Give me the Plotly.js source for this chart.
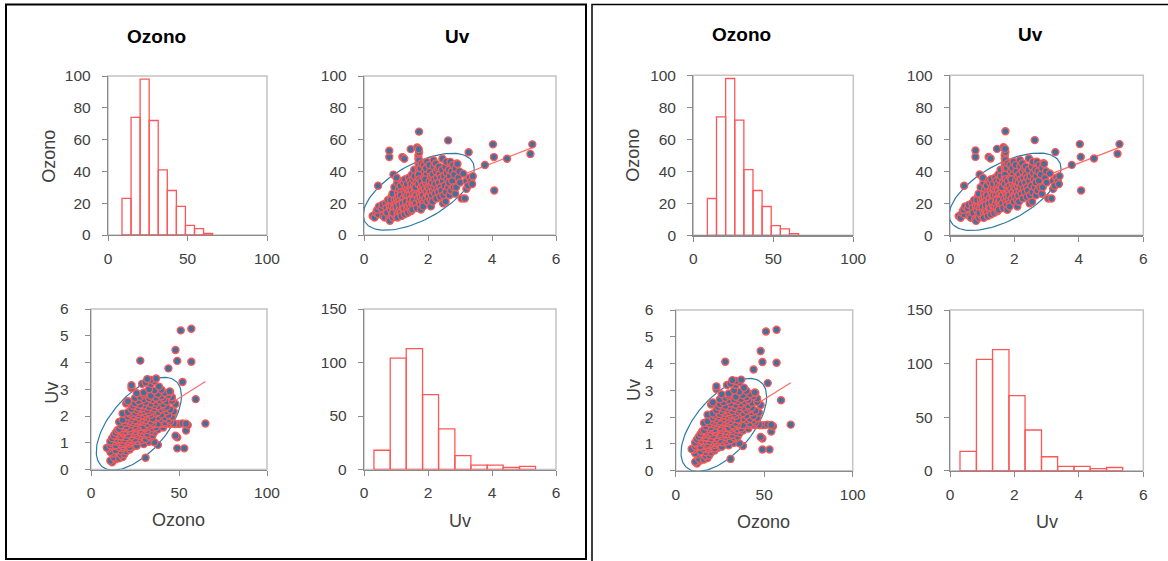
<!DOCTYPE html>
<html><head><meta charset="utf-8">
<script src="https://cdn.plot.ly/plotly-3.0.1.min.js"></script>
<style>html,body{margin:0;padding:0;background:#fff}#chart{width:1168px;height:561px}</style>
</head><body><div id="chart"></div>
<script>
// ---------------- data ----------------
const variableNames = ['Ozono', 'Uv'];

const ozonoBinEdges = [8.8, 14.5, 20.2, 25.9, 31.6, 37.3, 43.0, 48.7, 54.4, 60.1, 65.8];
const ozonoCounts   = [23, 74, 98, 72, 41, 28, 18, 6, 4, 1];

const uvBinEdges = [0.31, 0.82, 1.32, 1.83, 2.33, 2.84, 3.34, 3.85, 4.35, 4.86, 5.36];
const uvCounts   = [18, 104, 113, 70, 38, 13, 4, 4, 2, 3];

const uvValues = [
  0.27,0.33,0.38,0.45,0.42,0.47,0.44,0.55,0.58,0.6,0.65,0.68,0.7,0.72,0.75,0.78,0.79,0.79,
  0.8,0.81,0.83,0.85,0.86,0.88,0.9,0.87,0.84,0.92,0.93,0.95,0.97,0.98,0.96,0.94,0.99,0.91,1.0,0.89,0.95,
  1.02,1.03,1.05,1.06,1.08,1.04,1.07,1.1,1.09,1.01,1.05,1.08,1.02,
  1.12,1.13,1.15,1.16,1.18,1.14,1.19,1.11,1.17,1.2,1.2,1.15,
  1.22,1.23,1.25,1.26,1.28,1.24,1.29,1.21,1.27,1.3,1.25,1.28,1.26,
  1.32,1.33,1.35,1.36,1.38,1.34,1.39,1.31,1.37,1.4,1.35,1.38,
  1.42,1.43,1.45,1.46,1.48,1.44,1.49,1.46,1.47,1.5,1.45,1.48,
  1.52,1.53,1.55,1.56,1.58,1.54,1.59,1.51,1.57,1.6,1.55,1.58,
  1.62,1.63,1.65,1.66,1.72,1.68,1.64,1.69,1.61,1.7,1.7,1.7,1.7,1.7,1.7,1.72,1.72,1.72,1.72,1.71,1.73,1.7,1.71,
  1.74,1.75,1.76,1.78,1.77,1.79,1.8,1.76,1.78,1.8,
  1.82,1.83,1.85,1.86,1.88,1.84,1.89,1.87,1.9,1.85,
  1.92,1.93,1.95,1.96,1.98,1.94,1.99,1.91,2.0,1.97,
  2.02,2.03,2.05,2.06,2.08,2.09,2.04,2.1,2.07,2.1,
  2.12,2.13,2.15,2.16,2.18,2.14,2.19,2.2,2.17,
  2.22,2.23,2.25,2.26,2.28,2.24,2.29,2.3,
  2.32,2.34,2.36,2.38,2.35,2.39,2.4,
  2.42,2.44,2.46,2.48,2.45,2.5,2.47,
  2.52,2.54,2.56,2.58,2.55,2.6,2.57,
  2.63,2.63,2.65,2.67,2.68,2.7,2.66,
  2.72,2.74,2.76,2.78,2.8,
  2.82,2.85,2.88,2.9,2.86,
  2.92,2.95,2.98,3.0,
  3.05,3.1,3.15,3.2,3.2,3.27,3.25,3.3,
  3.35,3.4,3.38,3.78,4.03,4.06,4.07,4.47,5.2,5.26
];
const ozonoValues = [
  12,11,14,13,16,18,31,17,19,12,11,20,17,14,22,10,49,53,
  18,9,16,20,24,13,11,18,22,38,15,19,25,12,22,17,28,14,20,26,30,
  16,23,13,26,19,33,21,15,29,18,11,24,36,
  17,22,14,27,20,31,24,19,12,49,34,25,
  18,23,15,28,21,33,26,20,13,30,17,35,48,
  19,24,16,29,22,32,27,21,14,36,25,18,
  20,25,17,30,23,34,28,54,15,38,22,32,
  21,26,18,31,24,35,29,16,41,27,22,37,
  20,25,17,55,65,28,33,23,30,36,39,42,45,48,50,44,40,47,52,38,35,32,54,
  21,26,19,30,24,34,28,42,16,45,
  22,27,31,20,36,25,40,44,29,18,
  23,33,27,38,21,42,30,35,25,46,
  24,29,34,40,22,18,44,31,27,37,
  25,33,38,28,43,21,30,35,47,
  26,32,40,23,36,45,29,42,
  27,33,38,24,43,30,36,
  28,41,34,25,48,37,20,
  31,43,27,39,21,35,46,
  59.5,30,41,25,37,46,33,
  28,40,34,44,30,
  38,26,30,45,42,
  44.7,36,40,33,
  23,38.6,23,34,29,52,31,36,
  34,37,32,44,57,49,28,48,51,57
];

// trend lines and confidence ellipse
const trendOzonoOnUv = [13.9, 7.8];    // intercept, slope
const trendUvOnOzono = [0.59, 0.0415]; // intercept, slope
const ellipseCenter = [1.71, 27.2];    // Uv, Ozono
const ellipseHalfAxes = [1.735, 24.2]; // Uv, Ozono
const ellipseCorrelation = 0.6;

// ---------------- layout geometry ----------------
const W = 1168, H = 561;
const fx = p => p / W, fy = p => 1 - p / H;
const cells = [
  [{x:[108,267],y:[76,235]},{x:[364,556],y:[76,235]},{x:[91,267],y:[309,469.5]},{x:[364,556],y:[309,469.5]}],
  [{x:[693.3,853.3],y:[75.3,235.3]},{x:[950,1143.3],y:[75.3,235.3]},{x:[675.7,852.7],y:[310,470.7]},{x:[950,1143.3],y:[310,470.7]}]
];
const xRanges = [[0,100],[0,6],[0,100],[0,6]], xDt = [50,2,50,2];
const yRanges = [[0,100],[0,100],[0,6],[0,150]], yDt = [20,20,1,50];

const RED = '#ff5757', BLUE = '#41719c', ELL = '#2e7aa5';
const FONT = 'Liberation Sans, Arial, sans-serif';

function mids(e){ const m=[]; for(let i=0;i<e.length-1;i++) m.push((e[i]+e[i+1])/2); return m; }
function widths(e){ const w=[]; for(let i=0;i<e.length-1;i++) w.push(e[i+1]-e[i]); return w; }
function ellipse(cx, cy, ax, ay, rho){
  const d = Math.acos(rho), xs=[], ys=[];
  for(let i=0;i<=120;i++){ const t=2*Math.PI*i/120; xs.push(cx+ax*Math.cos(t)); ys.push(cy+ay*Math.cos(t-d)); }
  return [xs, ys];
}
const uvMin = Math.min(...uvValues), uvMax = Math.max(...uvValues);
const ozMin = Math.min(...ozonoValues), ozMax = Math.max(...ozonoValues);

const traces = [];
const layout = {
  width: W, height: H, margin:{l:0,r:0,t:0,b:0}, showlegend:false,
  paper_bgcolor:'#fff', plot_bgcolor:'#fff', shapes:[], annotations:[]
};

for (let p=0; p<2; p++){
  for (let c=0; c<4; c++){
    const n = p*4 + c + 1, xa = 'x'+(n===1?'':n), ya = 'y'+(n===1?'':n);
    const g = cells[p][c];
    const common = {
      showgrid:false, zeroline:false, showline:true, linecolor:'#8a8a8a', linewidth:1.2,
      ticks:'outside', ticklen:5, tickwidth:1, tickcolor:'#8a8a8a', tick0:0,
      tickfont:{family:FONT, size:15.5, color:'#404040'}, fixedrange:true
    };
    layout['xaxis'+(n===1?'':n)] = Object.assign({}, common, {
      domain:[fx(g.x[0]), fx(g.x[1])], range:xRanges[c], dtick:xDt[c], anchor:ya, ticklabelstandoff:4
    });
    layout['yaxis'+(n===1?'':n)] = Object.assign({}, common, {
      domain:[fy(g.y[1]), fy(g.y[0])], range:yRanges[c], dtick:yDt[c], anchor:xa,
      ticklabelstandoff: c===2 ? 13 : 8
    });
    layout.shapes.push({type:'rect', xref:xa+' domain', yref:ya+' domain', x0:0, x1:1, y0:0, y1:1,
      line:{color:'#c4c4c4', width:1.5}, layer:'below'});

    if (c===0 || c===3){
      const e = c===0 ? ozonoBinEdges : uvBinEdges;
      const cnt = c===0 ? ozonoCounts : uvCounts;
      traces.push({type:'bar', x:mids(e), y:cnt, width:widths(e), xaxis:xa, yaxis:ya,
        marker:{color:'rgba(255,255,255,0)', line:{color:RED, width:1.3}}, hoverinfo:'skip'});
    } else {
      const sx = c===1 ? uvValues : ozonoValues;
      const sy = c===1 ? ozonoValues : uvValues;
      const el = c===1
        ? ellipse(ellipseCenter[0], ellipseCenter[1], ellipseHalfAxes[0], ellipseHalfAxes[1], ellipseCorrelation)
        : ellipse(ellipseCenter[1], ellipseCenter[0], ellipseHalfAxes[1], ellipseHalfAxes[0], ellipseCorrelation);
      const tr = c===1 ? trendOzonoOnUv : trendUvOnOzono;
      const lx = c===1 ? [uvMin, uvMax] : [ozMin, ozMax];
      traces.push({type:'scatter', mode:'lines', x:el[0], y:el[1], xaxis:xa, yaxis:ya,
        line:{color:ELL, width:1.2}, hoverinfo:'skip'});
      traces.push({type:'scatter', mode:'lines', x:lx, y:lx.map(v=>tr[0]+tr[1]*v), xaxis:xa, yaxis:ya,
        line:{color:'#ff6b6b', width:1.2}, hoverinfo:'skip'});
      traces.push({type:'scatter', mode:'markers', x:sx, y:sy, xaxis:xa, yaxis:ya,
        marker:{size:7, color:BLUE, line:{color:RED, width:1.4}}, hoverinfo:'skip'});
    }
  }
}

// titles
function ann(text, px, py, opts){
  layout.annotations.push(Object.assign({text, xref:'paper', yref:'paper', x:fx(px), y:fy(py),
    xanchor:'center', yanchor:'middle', showarrow:false,
    font:{family:FONT, size:18, color:'#404040'}}, opts||{}));
}
const titlePos = [
  {oz:[156.7,36], uv:[457.8,36], yOz:[49,156.7], yUv:[51.7,393], xOz:[178.3,520], xUv:[459.5,520.7]},
  {oz:[741.7,35], uv:[1030.8,35], yOz:[633,155.7], yUv:[634,390], xOz:[763.7,522], xUv:[1046.7,522]}
];
titlePos.forEach(t=>{
  ann('<b>'+variableNames[0]+'</b>', t.oz[0], t.oz[1], {font:{family:FONT, size:19, color:'#000'}});
  ann('<b>'+variableNames[1]+'</b>', t.uv[0], t.uv[1], {font:{family:FONT, size:19, color:'#000'}});
  ann(variableNames[0], t.yOz[0], t.yOz[1], {textangle:-90});
  ann(variableNames[1], t.yUv[0], t.yUv[1], {textangle:-90});
  ann(variableNames[0], t.xOz[0], t.xOz[1]);
  ann(variableNames[1], t.xUv[0], t.xUv[1]);
});

// panel frames
layout.shapes.push({type:'rect', xref:'paper', yref:'paper', x0:fx(6), x1:fx(586), y0:fy(559), y1:fy(4.5),
  line:{color:'#000', width:2}});
layout.shapes.push({type:'rect', xref:'paper', yref:'paper', x0:fx(592), x1:fx(1185), y0:fy(590), y1:fy(4.5),
  line:{color:'#000', width:1.5}});

Plotly.newPlot('chart', traces, layout, {staticPlot:true, displayModeBar:false});
</script>
</body></html>
